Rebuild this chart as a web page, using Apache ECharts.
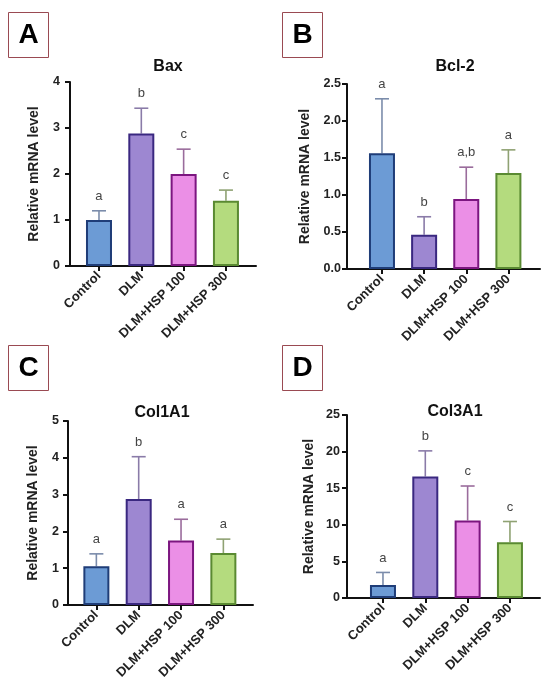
<!DOCTYPE html>
<html lang="en">
<head>
    <meta charset="UTF-8">
    <title>Relative mRNA level</title>
    <script src="https://cdn.jsdelivr.net/npm/echarts@6/dist/echarts.min.js"></script>
    <style>
        html, body { margin: 0; padding: 0; background: #fff; }
        #chart { width: 550px; height: 699px; }
    </style>
</head>
<body>
    <div id="chart"></div>
    <script>
        // data
        var groups = ['Control', 'DLM', 'DLM+HSP 100', 'DLM+HSP 300'];

        var baxMean = [1.0, 2.88, 2.0, 1.42];
        var baxErr = [1.2, 3.43, 2.54, 1.65];
        var baxSig = ['a', 'b', 'c', 'c'];

        var bcl2Mean = [1.565, 0.463, 0.945, 1.296];
        var bcl2Err = [2.30, 0.706, 1.376, 1.61];
        var bcl2Sig = ['a', 'b', 'a,b', 'a'];

        var col1Mean = [1.05, 2.88, 1.75, 1.41];
        var col1Err = [1.39, 4.03, 2.33, 1.79];
        var col1Sig = ['a', 'b', 'a', 'a'];

        var col3Mean = [1.77, 16.6, 10.6, 7.6];
        var col3Err = [3.49, 20.1, 15.3, 10.45];
        var col3Sig = ['a', 'b', 'c', 'c'];

        var fills = ['#6c9bd5', '#9d87d1', '#eb8fe6', '#b4db7e'];
        var borders = ['#1f3d78', '#3a2880', '#7c1680', '#5a8a32'];
        var errColors = ['#7b8cab', '#8a7ba8', '#9a6c9c', '#8fa273'];

        var panels = [
            { tag: 'A', title: 'Bax', mean: baxMean, err: baxErr, sig: baxSig,
              grid: { left: 70, top: 82, width: 186, height: 184 },
              xmin: -0.685, xmax: 3.71, ymax: 4, step: 1, dec: 0, nameGap: 29, labelGap: 10,
              box: [8, 12], titleX: 163, titleY: 54 },
            { tag: 'B', title: 'Bcl-2', mean: bcl2Mean, err: bcl2Err, sig: bcl2Sig,
              grid: { left: 347, top: 84, width: 193, height: 185 },
              xmin: -0.83, xmax: 3.75, ymax: 2.5, step: 0.5, dec: 1, nameGap: 35, labelGap: 6,
              box: [282, 12], titleX: 450, titleY: 54 },
            { tag: 'C', title: 'Col1A1', mean: col1Mean, err: col1Err, sig: col1Sig,
              grid: { left: 68, top: 421, width: 185, height: 184 },
              xmin: -0.67, xmax: 3.70, ymax: 5, step: 1, dec: 0, nameGap: 28, labelGap: 9,
              box: [8, 345], titleX: 157, titleY: 400 },
            { tag: 'D', title: 'Col3A1', mean: col3Mean, err: col3Err, sig: col3Sig,
              grid: { left: 347, top: 415, width: 193, height: 183 },
              xmin: -0.85, xmax: 3.71, ymax: 25, step: 5, dec: 0, nameGap: 31, labelGap: 7,
              box: [282, 345], titleX: 450, titleY: 399 }
        ];

        var font = 'Liberation Sans, Arial, sans-serif';

        var grids = [], xAxes = [], yAxes = [], series = [], titles = [], graphics = [];

        panels.forEach(function (p, k) {
            grids.push(p.grid);

            xAxes.push({
                gridIndex: k,
                type: 'value',
                min: p.xmin,
                max: p.xmax,
                splitLine: { show: false },
                axisLine: { show: true, onZero: false, lineStyle: { color: '#111', width: 2 } },
                axisTick: { show: true, customValues: [0, 1, 2, 3], length: 5, lineStyle: { color: '#111', width: 2 } },
                axisLabel: {
                    customValues: [0, 1, 2, 3],
                    rotate: 45,
                    margin: 8,
                    fontFamily: font,
                    fontWeight: 'bold',
                    fontSize: 13,
                    color: '#222',
                    formatter: function (v) { return groups[Math.round(v)]; }
                }
            });

            yAxes.push({
                gridIndex: k,
                type: 'value',
                min: 0,
                max: p.ymax,
                interval: p.step,
                name: 'Relative mRNA level',
                nameLocation: 'middle',
                nameRotate: 90,
                nameGap: p.nameGap,
                nameTextStyle: { fontFamily: font, fontWeight: 'bold', fontSize: 14, color: '#222' },
                splitLine: { show: false },
                axisLine: { show: true, onZero: false, lineStyle: { color: '#111', width: 2 } },
                axisTick: { show: true, length: 5, lineStyle: { color: '#111', width: 2 } },
                axisLabel: {
                    margin: p.labelGap,
                    fontFamily: font,
                    fontWeight: 'bold',
                    fontSize: 12.5,
                    color: '#222',
                    formatter: function (v) { return v.toFixed(p.dec); }
                }
            });

            series.push({
                type: 'bar',
                xAxisIndex: k,
                yAxisIndex: k,
                barWidth: 26,
                data: p.mean.map(function (v, i) {
                    return {
                        value: [i, v],
                        itemStyle: { color: fills[i], borderColor: borders[i], borderWidth: 2 }
                    };
                }),
                silent: true,
                z: 2
            });

            // upper error bars with significance letters
            series.push({
                type: 'custom',
                xAxisIndex: k,
                yAxisIndex: k,
                data: p.mean.map(function (v, i) { return [i, v, p.err[i]]; }),
                renderItem: function (params, api) {
                    var i = api.value(0);
                    var base = api.coord([i, api.value(1)]);
                    var top = api.coord([i, api.value(2)]);
                    var col = errColors[i];
                    return {
                        type: 'group',
                        children: [
                            { type: 'line', shape: { x1: base[0], y1: base[1], x2: top[0], y2: top[1] },
                              style: { stroke: col, lineWidth: 1.6 } },
                            { type: 'line', shape: { x1: top[0] - 7, y1: top[1], x2: top[0] + 7, y2: top[1] },
                              style: { stroke: col, lineWidth: 1.6 } },
                            { type: 'text', x: top[0], y: top[1] - 8,
                              style: { text: p.sig[i], fill: '#444', font: '13px ' + font,
                                       align: 'center', verticalAlign: 'bottom' } }
                        ]
                    };
                },
                z: 1
            });

            titles.push({
                text: p.title,
                left: p.titleX,
                top: p.titleY,
                textAlign: 'center',
                textStyle: { fontFamily: font, fontWeight: 'bold', fontSize: 16, color: '#111' }
            });

            graphics.push({
                type: 'group',
                left: p.box[0],
                top: p.box[1],
                children: [
                    { type: 'rect', shape: { x: 0, y: 0, width: 40, height: 45 },
                      style: { fill: '#fff', stroke: '#9a4a52', lineWidth: 1 } },
                    { type: 'text', x: 20, y: 23,
                      style: { text: p.tag, fill: '#000', font: 'bold 28px ' + font,
                               align: 'center', verticalAlign: 'middle' } }
                ]
            });
        });

        var chart = echarts.init(document.getElementById('chart'));
        chart.setOption({
            animation: false,
            title: titles,
            grid: grids,
            xAxis: xAxes,
            yAxis: yAxes,
            series: series,
            graphic: graphics
        });
    </script>
</body>
</html>
